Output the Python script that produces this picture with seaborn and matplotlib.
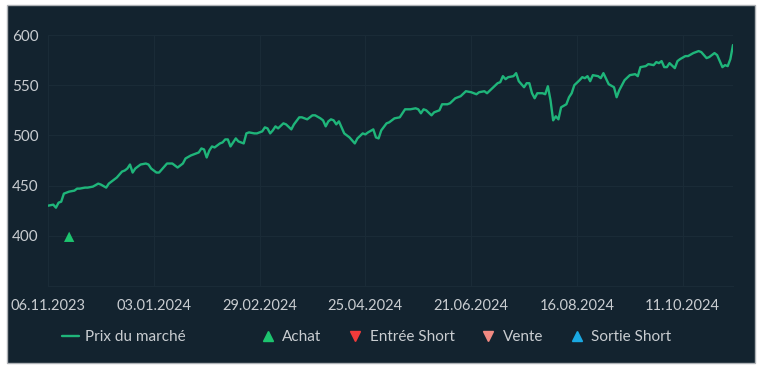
import matplotlib
matplotlib.use("Agg")
import matplotlib.pyplot as plt
import seaborn as sns
import pandas as pd
from matplotlib.lines import Line2D
from matplotlib.patches import Rectangle

# ---- data (trading-day index, market price) ----
day_index = [0, 2, 3, 4, 5, 6, 8, 10, 11, 12, 14, 15, 17, 19, 20, 22, 23, 25, 26, 28,
             29, 30, 31, 32, 33, 35, 37, 38, 39, 41, 42, 44, 45, 47, 49, 51, 52, 54, 56, 57,
             58, 59, 60, 61, 62, 63, 65, 66, 67, 68, 69, 70, 71, 72, 74, 75, 76, 78, 79, 81,
             82, 83, 84, 85, 86, 87, 89, 90, 92, 93, 95, 96, 98, 100, 101, 103, 104, 105, 106, 107,
             108, 109, 110, 111, 112, 114, 116, 117, 119, 120, 121, 123, 124, 125, 126, 128, 129, 131, 133, 135,
             137, 139, 140, 141, 142, 143, 145, 146, 148, 149, 151, 152, 154, 156, 158, 160, 162, 163, 165, 166,
             168, 170, 171, 172, 173, 174, 176, 177, 178, 180, 181, 182, 183, 184, 185, 187, 188, 189, 190, 191,
             192, 193, 194, 196, 197, 198, 199, 201, 202, 203, 204, 205, 206, 208, 209, 210, 212, 214, 215, 216,
             218, 220, 222, 223, 224, 226, 227, 229, 230, 231, 232, 233, 234, 235, 237, 238, 239, 241, 242, 244,
             246, 247, 249, 250, 252, 253, 255, 256, 257, 258, 259]
price = [430, 431, 428, 433, 434, 442, 444, 445, 447, 447, 448, 448, 449, 452, 451, 448, 452, 456, 458, 464,
         465, 467, 471, 463, 467, 471, 472, 471, 467, 463, 463, 469, 472, 472, 468, 472, 477, 480, 482, 483,
         487, 486, 478, 485, 489, 488, 492, 493, 496, 496, 489, 493, 497, 494, 492, 502, 503, 502, 502, 504,
         508, 507, 502, 505, 509, 507, 512, 511, 506, 511, 518, 518, 516, 520, 520, 517, 515, 509, 514, 516,
         515, 511, 514, 508, 502, 498, 492, 497, 502, 501, 503, 506, 498, 497, 505, 512, 513, 517, 518, 526,
         526, 527, 526, 522, 526, 525, 520, 523, 525, 531, 531, 532, 537, 539, 544, 543, 541, 543, 544, 542,
         547, 552, 553, 559, 556, 558, 559, 562, 554, 548, 552, 552, 542, 537, 542, 542, 541, 549, 535, 515,
         519, 516, 528, 531, 538, 542, 550, 555, 558, 557, 559, 554, 560, 559, 557, 562, 551, 548, 538, 545,
         555, 560, 561, 559, 568, 569, 571, 570, 573, 572, 574, 568, 568, 572, 567, 574, 576, 579, 579, 582,
         584, 583, 577, 578, 582, 580, 568, 570, 569, 576, 590]
buy_day = [8]
buy_price = [399]
tick_positions = [0, 40, 80, 120, 160, 200, 240]
tick_labels = ["06.11.2023", "03.01.2024", "29.02.2024", "25.04.2024",
               "21.06.2024", "16.08.2024", "11.10.2024"]
y_ticks = [400, 450, 500, 550, 600]
legend_labels = ["Prix du marché", "Achat", "Entrée Short", "Vente", "Sortie Short"]

df = pd.DataFrame({"day": day_index, "price": price})

sns.set_theme(style="dark")
plt.rcParams['font.family'] = ['Lato', 'DejaVu Sans']

BG = '#13232f'
GRID = '#1a2b37'
LINE = '#1fb57a'
TXT = '#c9cdd1'
C_BUY = '#1dc46f'
C_SHORT_IN = '#f23b3b'
C_SELL = '#f28a82'
C_SHORT_OUT = '#1aa9e3'

W, H = 760, 367
fig = plt.figure(figsize=(W / 100, H / 100), dpi=100, facecolor='white')
fig.patches.append(Rectangle((7 / W, 4 / H), 748 / W, 358 / H, transform=fig.transFigure,
                             facecolor=BG, edgecolor='#aeb2b6', lw=1.0, zorder=-10))
ax = fig.add_axes([48 / W, 81 / H, 685 / W, 251 / H])
ax.set_zorder(2)
ax.set_facecolor(BG)

sns.lineplot(data=df, x="day", y="price", ax=ax, color=LINE, linewidth=1.7, legend=False)
sns.scatterplot(x=buy_day, y=buy_price, ax=ax, marker='^', s=55, color=C_BUY,
                edgecolor='none', legend=False, zorder=5)

ax.set_xlim(0, 259)
ax.set_ylim(350, 600)
ax.set_xticks(tick_positions)
ax.set_xticklabels(tick_labels, fontsize=10.5)
ax.set_yticks(y_ticks)
ax.set_xlabel("")
ax.set_ylabel("")
ax.grid(True, color=GRID, linewidth=0.8)
ax.tick_params(axis='both', length=0, labelcolor=TXT)
ax.tick_params(axis='y', labelsize=11, pad=7)
ax.tick_params(axis='x', pad=9)
for side in ['top', 'right', 'left']:
    ax.spines[side].set_visible(False)
ax.spines['bottom'].set_color(GRID)
ax.spines['bottom'].set_linewidth(0.8)

h_line = [Line2D([0], [0], color=LINE, lw=1.7)]
leg1 = fig.legend(h_line, legend_labels[:1], loc='center left',
                  bbox_to_anchor=(48 / W, 1 - 337 / H), frameon=False,
                  fontsize=11, labelcolor=TXT, handlelength=1.15, handletextpad=0.4)
marker_handles = [
    Line2D([], [], ls='none', marker='^', color=C_BUY, markersize=7),
    Line2D([], [], ls='none', marker='v', color=C_SHORT_IN, markersize=7),
    Line2D([], [], ls='none', marker='v', color=C_SELL, markersize=7),
    Line2D([], [], ls='none', marker='^', color=C_SHORT_OUT, markersize=7),
]
leg2 = fig.legend(marker_handles, legend_labels[1:], loc='center left',
                  bbox_to_anchor=(248 / W, 1 - 337 / H), frameon=False, ncol=4,
                  fontsize=11, labelcolor=TXT, handlelength=0.8, handletextpad=0.55,
                  columnspacing=1.8)

fig.savefig("out.png", dpi=100, facecolor='white')
